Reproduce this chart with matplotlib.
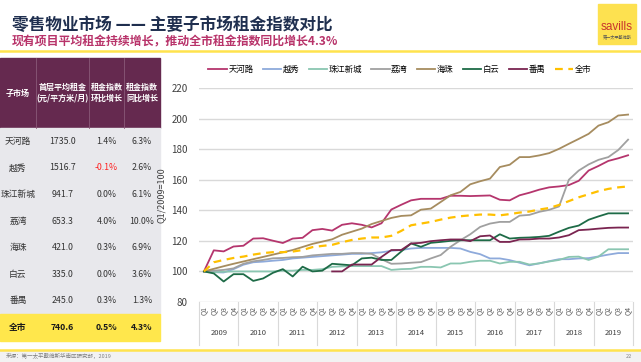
import numpy as np
import matplotlib.pyplot as plt
from matplotlib.patches import Rectangle

plt.rcParams['font.family'] = ['Noto Sans CJK SC', 'DejaVu Sans']

# 数据：2009Q1 - 2019Q4，Q1/2009=100
years = [str(y) for y in range(2009, 2020)]
quarters = ['Q1', 'Q2', 'Q3', 'Q4']

tianhe = [100, 113.8, 113.1, 116.3, 116.8, 121.5, 121.7, 120.1, 118.6, 121.5, 122, 127,
          127.8, 126.7, 130.5, 131.5, 130.5, 128.8, 131.5, 140.5, 143.6, 146.5, 147.5, 147.5,
          147.5, 149.5, 149.5, 149.3, 149.5, 149.7, 146.9, 146.5, 149.8, 151.5, 153.5, 155,
          155.6, 156.5, 159.3, 166, 169, 172.3, 174, 176]
yuexiu = [100, 99.5, 99.3, 101.5, 104.4, 106, 106.4, 107, 107.5, 108.5, 109, 109.5,
          110, 110.5, 111, 111.5, 111.5, 112, 112.5, 113.5, 114, 115, 115.4, 115.4,
          115.4, 115.4, 115, 112.8, 111.3, 108.5, 108.5, 107.4, 105.7, 104, 105.3, 106.7,
          108, 108, 108.5, 108.7, 109.8, 111, 112, 112]
zhujiang = [100, 99.5, 99.8, 100, 100, 100, 100, 100, 100.5, 100.5, 101, 101,
            101.5, 103, 103.3, 103.5, 103.5, 103.5, 103.5, 101, 101.5, 101.7, 103, 103,
            102.6, 105.2, 105.2, 106.3, 107, 107, 105.2, 106.3, 106.3, 104.5, 105.3, 106.5,
            107.5, 109.5, 109.7, 107.5, 109.7, 114.5, 114.5, 114.5]
liwan = [100, 100.5, 101, 102, 105, 106.6, 107.5, 108.6, 108.8, 109.3, 109.5, 110.5,
         111, 111.5, 111.5, 112, 112, 111.5, 108, 105, 105.2, 105.7, 106.1, 108.5,
         110.7, 116.1, 120.4, 124.3, 129.1, 131.3, 132.4, 132.4, 136.5, 137, 139, 140.3,
         142.5, 160, 166, 170, 173, 174.8, 179.4, 186.2]
haizhu = [100, 101.7, 103.4, 105, 106.5, 108, 109.5, 111, 112.5, 114, 116, 118,
          119.5, 121, 124, 126, 128, 131, 133, 135, 136.3, 136.7, 140.4, 141.1,
          145.4, 149.8, 152, 157, 159, 160.7, 168.3, 169.8, 174.8, 174.8, 175.9, 177.4,
          180.2, 183.5, 186.7, 190, 195.4, 197.6, 202, 202.6]
baiyun = [100, 98.7, 93.4, 98.2, 98.2, 93.8, 95.4, 99.1, 101.5, 96.7, 103.1, 100,
          100.5, 105, 104.5, 104, 108.5, 109, 107.5, 107.5, 113, 118.3, 116.1, 118.7,
          119.3, 120, 120.4, 120.4, 120.4, 120.4, 124.3, 121.5, 122, 122.2, 122.6, 123.3,
          126, 128.5, 130, 133.8, 136, 138, 138, 138]
panyu = [None] * 13 + [100, 100, 104.5, 104.5, 104.5, 109.5, 114, 114, 118.3, 118.7, 119.8,
                       120.4, 120.9, 120.9, 119.8, 123, 123.5, 119.3, 119.3, 120.9, 121, 121.5, 121.5,
                       122.2, 123.7, 127, 127.4, 128, 128.5, 128.7, 128.7]
city = [100, 106, 107.5, 108.8, 109.7, 111, 112, 112.6, 112.6, 113, 114, 115.9,
        116.7, 117.4, 119.1, 120.6, 121.5, 122.2, 122.2, 123.3, 126.5, 130.2, 131.3, 132.4,
        133.9, 135.2, 136.1, 136.7, 137.2, 137.2, 136.7, 137.5, 138.5, 139.2, 140.5, 141.5,
        143.5, 146, 148.5, 150.5, 152.5, 154, 155, 155.6]

series_names = ['天河路', '越秀', '珠江新城', '荔湾', '海珠', '白云', '番禺', '全市']
series_vals = [tianhe, yuexiu, zhujiang, liwan, haizhu, baiyun, panyu, city]
series_colors = ['#b5356d', '#8eaadb', '#8ac6b1', '#a0a0a0', '#a68c5f', '#1e6b47', '#7a2450', '#ffc000']

# 表格数据
tbl_header = ['子市场', '首层平均租金\n(元/平方米/月)', '租金指数\n环比增长', '租金指数\n同比增长']
tbl_market = ['天河路', '越秀', '珠江新城', '荔湾', '海珠', '白云', '番禺', '全市']
tbl_rent = ['1735.0', '1516.7', '941.7', '653.3', '421.0', '335.0', '245.0', '740.6']
tbl_qoq = ['1.4%', '-0.1%', '0.0%', '4.0%', '0.3%', '0.0%', '0.3%', '0.5%']
tbl_yoy = ['6.3%', '2.6%', '6.1%', '10.0%', '6.9%', '3.6%', '1.3%', '4.3%']

W, H = 641, 362
fig = plt.figure(figsize=(W / 100, H / 100), dpi=100)

# 背景层，像素坐标
bg = fig.add_axes([0, 0, 1, 1])
bg.set_xlim(0, W)
bg.set_ylim(H, 0)
bg.axis('off')

bg.text(12, 25, '零售物业市场 —— 主要子市场租金指数对比', fontsize=12, fontweight='bold',
        color='#1f2f4f', va='center', ha='left')
bg.text(12, 42, '现有项目平均租金持续增长，推动全市租金指数同比增长4.3%', fontsize=8.6,
        fontweight='bold', color='#b8336a', va='center', ha='left')
bg.plot([0, W], [50.5, 50.5], color='#ffe34d', lw=1.8)

# savills 标志
bg.add_patch(Rectangle((598, 4), 38, 40, color='#fde150'))
bg.text(617, 27, 'savills', fontsize=8.5, color='#c8352e', ha='center', va='center',
        family=['Liberation Sans', 'DejaVu Sans'])
bg.text(617, 37, '第一太平戴维斯', fontsize=3, color='#555555', ha='center', va='center')

# 表格
cols = [0, 36, 89, 124, 160]
top, head_h, row_h = 58, 70, 26.6
bg.add_patch(Rectangle((0, top), 160, head_h, color='#65294f'))
for x in cols[1:-1]:
    bg.plot([x, x], [top, top + head_h], color='#8a5a78', lw=0.6)
for j, t in enumerate(tbl_header):
    bg.text((cols[j] + cols[j + 1]) / 2, top + head_h / 2, t, color='white', fontsize=5.8,
            fontweight='bold', ha='center', va='center', linespacing=1.3)
body_top = top + head_h
bg.add_patch(Rectangle((0, body_top), 160, row_h * 7, color='#e8e8ec'))
bg.add_patch(Rectangle((0, body_top + row_h * 7), 160, row_h, color='#ffe74c'))
for i in range(8):
    yc = body_top + row_h * (i + 0.5)
    last = i == 7
    fw = 'bold' if last else 'normal'
    vals = [tbl_market[i], tbl_rent[i], tbl_qoq[i], tbl_yoy[i]]
    for j, v in enumerate(vals):
        c = '#ff2020' if v.startswith('-') else '#333333'
        if last:
            c = '#1a1a1a'
        bg.text((cols[j] + cols[j + 1]) / 2, yc, v, fontsize=6.3, color=c, fontweight=fw,
                ha='center', va='center')

# 底部
bg.plot([0, W], [349.5, 349.5], color='#ffe34d', lw=1.8)
bg.add_patch(Rectangle((0, 351), W, 11, color='#f2f2f2'))
bg.text(6, 356, '来源：第一太平戴维斯华南区研究部，2019', fontsize=4, color='#808080',
        style='italic', ha='left', va='center')
bg.text(632, 356, '22', fontsize=4, color='#808080', ha='right', va='center')

# 折线图
x0, x1, y0, y1 = 199, 633, 88, 302
ax = fig.add_axes([x0 / W, 1 - y1 / H, (x1 - x0) / W, (y1 - y0) / H])
ax.patch.set_alpha(0)
xs = np.arange(44)
for name, vals, col in zip(series_names, series_vals, series_colors):
    v = np.array([np.nan if a is None else a for a in vals], dtype=float)
    if name == '全市':
        ax.plot(xs, v, color=col, lw=1.6, ls=(0, (3.5, 2.5)), label=name, zorder=3)
    else:
        ax.plot(xs, v, color=col, lw=1.3, label=name, zorder=3)

ax.set_xlim(-0.5, 43.5)
ax.set_ylim(80, 220)
ax.set_yticks(range(80, 221, 20))
ax.grid(axis='y', color='#d9d9d9', lw=1)
ax.set_axisbelow(True)
for s in ax.spines.values():
    s.set_visible(False)
ax.tick_params(axis='y', length=0, labelsize=7, labelcolor='#404040', pad=8)
ax.set_ylabel('Q1/2009=100', fontsize=6.5, color='#404040', labelpad=4)

ax.set_xticks(xs)
ax.set_xticklabels(quarters * len(years), rotation=90, fontsize=5, color='#595959')
ax.tick_params(axis='x', length=0, pad=3)
trans = ax.get_xaxis_transform()
for k in range(len(years) + 1):
    ax.plot([k * 4 - 0.5] * 2, [0, -0.2], color='#d9d9d9', lw=0.8, transform=trans, clip_on=False)
for k, y in enumerate(years):
    ax.text(k * 4 + 1.5, -0.145, y, fontsize=5.5, color='#404040', ha='center', va='center',
            transform=trans)

ax.legend(loc='center', bbox_to_anchor=(0.463, 1.085), ncol=8, frameon=False, fontsize=6,
          handlelength=2.2, handletextpad=0.2, columnspacing=1.1)

fig.savefig('out.png', dpi=100)
